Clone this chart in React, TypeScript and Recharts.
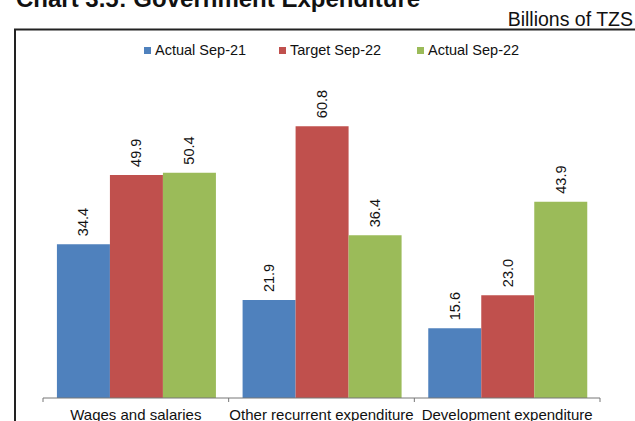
import React from 'react';
import { BarChart, Bar, XAxis, YAxis, LabelList } from 'recharts';

const categories = ['Wages and salaries', 'Other recurrent expenditure', 'Development expenditure'];
const actualSep21 = [34.4, 21.9, 15.6];
const targetSep22 = [49.9, 60.8, 23.0];
const actualSep22 = [50.4, 36.4, 43.9];

const seriesNames = ['Actual Sep-21', 'Target Sep-22', 'Actual Sep-22'];
const COLORS = ['#4F81BD', '#C0504D', '#9BBB59'];

const FONT = '"Liberation Sans", Arial, sans-serif';
const W = 635;
const H = 421;
const LEFT = 43;
const RIGHT = 35;
const BAND = (W - LEFT - RIGHT) / categories.length;

const data = categories.map((name, i) => ({
    name,
    a21: actualSep21[i],
    t22: targetSep22[i],
    a22: actualSep22[i],
}));

const keys = ['a21', 't22', 'a22'];

// value written vertically just above each bar
const BarLabel = (props: any) => {
    const { x, y, width, value } = props;
    const cx = x + width / 2;
    const cy = y - 8;
    return (
        <text
            x={cx}
            y={cy}
            transform={`rotate(-90 ${cx} ${cy})`}
            textAnchor="start"
            dominantBaseline="central"
            fontSize={14.5}
            fontFamily={FONT}
            fill="#111"
        >
            {Number(value).toFixed(1)}
        </text>
    );
};

// category label with tick marks at the band edges
const CategoryTick = (props: any) => {
    const { x, y, payload, index } = props;
    const last = index === categories.length - 1;
    return (
        <g>
            <line x1={x - BAND / 2} y1={y} x2={x - BAND / 2} y2={y + 4} stroke="#777" />
            {last && <line x1={x + BAND / 2} y1={y} x2={x + BAND / 2} y2={y + 4} stroke="#777" />}
            <text x={x} y={y + 22} textAnchor="middle" fontSize={15} fontFamily={FONT} fill="#111">
                {payload.value}
            </text>
        </g>
    );
};

export default function App() {
    return (
        <div style={{ position: 'absolute', left: 0, top: 0, width: W, height: H, overflow: 'hidden', background: '#fff' }}>
            <svg width={W} height={H} style={{ position: 'absolute', left: 0, top: 0 }}>
                <text x={16} y={7} fontSize={24} fontWeight="bold" fontFamily={FONT} fill="#111">
                    Chart 3.5: Government Expenditure
                </text>
                <text x={633} y={26} textAnchor="end" fontSize={19.5} fontFamily={FONT} fill="#111">
                    Billions of TZS
                </text>
                <path d={`M15 ${H} L15 29.5 L${W} 29.5`} fill="none" stroke="#222" strokeWidth={2} />
                {seriesNames.map((s, i) => {
                    const lx = [144, 279, 417][i];
                    return (
                        <g key={s}>
                            <rect x={lx} y={47} width={7} height={7} fill={COLORS[i]} />
                            <text x={lx + 11} y={55} fontSize={14.5} fontFamily={FONT} fill="#111">
                                {s}
                            </text>
                        </g>
                    );
                })}
            </svg>
            <div style={{ position: 'absolute', left: 0, top: 0 }}>
                <BarChart
                    width={W}
                    height={H}
                    data={data}
                    margin={{ top: 85, right: RIGHT, bottom: 0, left: LEFT }}
                    barCategoryGap="7.5%"
                    barGap={0}
                >
                    <XAxis
                        dataKey="name"
                        height={23}
                        tickLine={false}
                        tickSize={0}
                        tickMargin={0}
                        axisLine={{ stroke: '#777' }}
                        tick={<CategoryTick />}
                        interval={0}
                    />
                    <YAxis hide domain={[0, 70]} />
                    {keys.map((k, i) => (
                        <Bar key={k} dataKey={k} name={seriesNames[i]} fill={COLORS[i]} isAnimationActive={false}>
                            <LabelList dataKey={k} content={<BarLabel />} />
                        </Bar>
                    ))}
                </BarChart>
            </div>
        </div>
    );
}
